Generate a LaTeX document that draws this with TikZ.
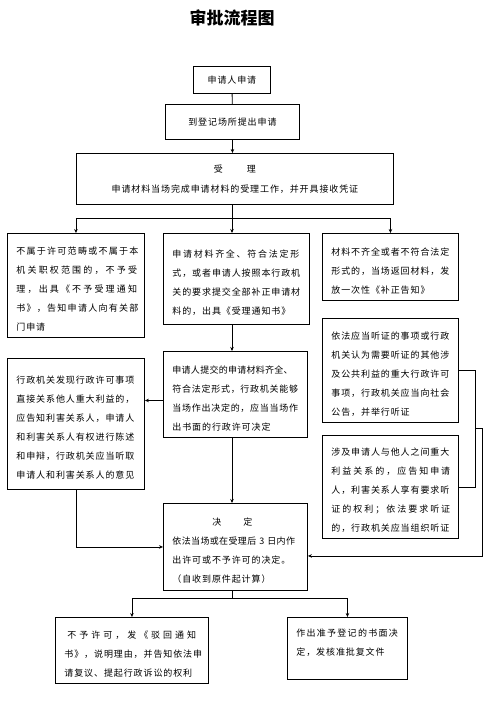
\documentclass[tikz,border=0pt]{standalone}
\usepackage{fontspec}
\newfontfamily\cjk[LetterSpace=10]{Noto Sans CJK SC}
\newfontfamily\cjkt{Noto Sans CJK SC}
\usetikzlibrary{arrows.meta}
\newcommand{\fl}{\rule{0pt}{15pt}}
\newcommand{\js}[2]{{\addfontfeature{LetterSpace=#1}#2}}
\begin{document}
\begin{tikzpicture}[x=1pt,y=-1pt,
  box/.style={draw,line width=0.9pt,anchor=north west,inner xsep=9pt,inner ysep=0pt,align=left,font=\cjk\fontsize{9}{19}\selectfont},
  cbox/.style={box,align=center},
  conn/.style={line width=0.8pt},
  arr/.style={conn,-{Stealth[length=4pt,width=3.5pt]}}]
\useasboundingbox (0,0) rectangle (493,702);
\node[font=\cjkt\bfseries\fontsize{17}{20}\selectfont] (title) at (232,18) {审批流程图};

\node[cbox,minimum width=77pt,minimum height=27pt] (apply) at (193,66) {申请人申请};
\node[cbox,minimum width=134pt,minimum height=35pt] (reg) at (165,104) {到登记场所提出申请};
\node[cbox,minimum width=317pt,minimum height=51pt,font=\cjk\fontsize{9}{20}\selectfont] (accept) at (76,153) {受\hspace{24pt}理\\申请材料当场完成申请材料的受理工作，并开具接收凭证};

\node[box,minimum width=137pt,minimum height=104pt,text width=119pt] (reject) at (7,233)
 {\fl\js{14}{不属于许可范畴或不属于本}\\\js{24}{机关职权范围的，不予受}\\\js{24}{理，出具《不予受理通知}\\\js{14}{书》，告知申请人向有关部}\\门申请};
\node[box,minimum width=146pt,minimum height=91pt,text width=128pt] (complete) at (163,233)
 {\fl\js{19}{申请材料齐全、符合法定形}\\式，或者申请人按照本行政机\\关的要求提交全部补正申请材\\料的，出具《受理通知书》};
\node[box,minimum width=136pt,minimum height=67pt,text width=118pt] (corr) at (322,233)
 {\fl 材料不齐全或者不符合法定\\形式的，当场返回材料，发\\放一次性《补正告知》};
\node[box,minimum width=136pt,minimum height=104pt,text width=118pt] (pub) at (322,318)
 {\fl 依法应当听证的事项或行政\\机关认为需要听证的其他涉\\及公共利益的重大行政许可\\事项，行政机关应当向社会\\公告，并举行听证};
\node[box,minimum width=136pt,minimum height=103pt,text width=118pt] (rel) at (322,435)
 {\fl 涉及申请人与他人之间重大\\\js{22}{利益关系的，应告知申请}\\人，利害关系人享有要求听\\\js{22}{证的权利；依法要求听证}\\的，行政机关应当组织听证};
\node[box,minimum width=144pt,minimum height=86pt,text width=126pt] (onsite) at (163,351)
 {\fl\js{3}{申请人提交的申请材料齐全、}\\\js{8}{符合法定形式，行政机关能够}\\\js{8}{当场作出决定的，应当当场作}\\出书面的行政许可决定};
\node[box,minimum width=137pt,minimum height=131pt,text width=119pt] (notify) at (7,358)
 {\fl 行政机关发现行政许可事项\\直接关系他人重大利益的，\\应告知利害关系人，申请人\\和利害关系人有权进行陈述\\和申辩，行政机关应当听取\\申请人和利害关系人的意见};
\node[box,minimum width=144pt,minimum height=87pt,text width=126pt] (decide) at (163,503)
 {\fl\makebox[120pt]{决\hspace{22pt}定}\\\mbox{\js{4}{依法当场或在受理后 3 日内作}}\\出许可或不予许可的决定。\\（自收到原件起计算）};
\node[box,minimum width=153pt,minimum height=66pt,text width=135pt] (deny) at (55,617)
 {\fl\hspace{3pt}\js{33}{不予许可，发《驳回通知}\\书》，说明理由，并告知依法申\\请复议、提起行政诉讼的权利};
\node[box,minimum width=120pt,minimum height=62pt,text width=102pt] (grant) at (287,617)
 {\fl\js{14}{作出准予登记的书面决}\\定，发核准批复文件\\\mbox{}};

\draw[conn] (apply) -- (reg);
\draw[arr] (reg) -- (reg |- accept.north);
\coordinate (split) at (232,218);
\draw[conn] (split |- accept.south) -- (split);
\draw[conn] (reject.north |- split) -- (corr.north |- split);
\draw[arr] (reject.north |- split) -- (reject.north);
\draw[arr] (split) -- (split |- complete.north);
\draw[arr] (corr.north |- split) -- (corr.north);
\draw[arr] (split |- complete.south) -- (split |- onsite.north);
\draw[arr] ([yshift=-6pt]onsite.west) -- ([yshift=-6pt]onsite.west -| notify.east);
\draw[arr] (notify.south) |- (decide.west);
\draw[arr] (split |- onsite.south) -- (split |- decide.north);
\coordinate (bx) at (475,428);
\coordinate (bx2) at (482,428);
\draw[conn] (pub.east) -- (pub.east -| bx) -- (rel.east -| bx) -- (rel.east);
\draw[arr] (bx) -- (bx2) |- ([yshift=-9pt]decide.east);
\coordinate (j) at (232,598);
\draw[conn] (split |- decide.south) -- (j);
\draw[conn] (deny.north |- j) -- (grant.north |- j);
\draw[arr] (deny.north |- j) -- (deny.north);
\draw[arr] (grant.north |- j) -- (grant.north);
\end{tikzpicture}
\end{document}
